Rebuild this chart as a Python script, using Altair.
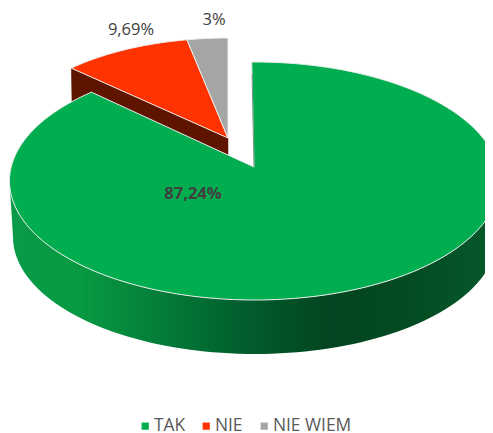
import math
import altair as alt

categories = ["TAK", "NIE", "NIE WIEM"]
shares = [87.24, 9.69, 3.0]
labels = ["87,24%", "9,69%", "3%"]
colors = ["#00AE50", "#FF3300", "#A5A5A5"]

# page offset of the plot area
OX, OY = 8, 8
# main disc: ellipse + the apex, which perspective moves off the ellipse centre
GC = (254.5, 181.0, 245.0, 119.0)
GA = (254.0, 167.0)
GB = (255.0, 237.0, 242.0, 117.0)  # lower rim
# pulled-out disc of the small slices
SC = (228.0, 138.0, 219.0, 100.0)
START = -0.6


def P(x, y):
    return [x - OX, y - OY]


def ray_point(c, a, deg):
    """Point where a ray from apex a at clock angle deg meets ellipse c."""
    cx, cy, rx, ry = c
    px, py = (a[0] - cx) / rx, -(a[1] - cy) / ry
    dx, dy = math.sin(math.radians(deg)), math.cos(math.radians(deg))
    b = px * dx + py * dy
    s = -b + math.sqrt(b * b - (px * px + py * py - 1))
    return (cx + rx * (px + s * dx), cy - ry * (py + s * dy))


def sector(c, a, d0, d1):
    n = max(4, int(abs(d1 - d0)))
    pts = [ray_point(c, a, d0 + (d1 - d0) * i / n) for i in range(n + 1)]
    ring = [P(*a)] + [P(*p) for p in pts] + [P(*a)]
    return ring


def feature(name, ring):
    return {"type": "Feature", "properties": {"name": name},
            "geometry": {"type": "Polygon", "coordinates": [ring]}}


green_end = START + shares[0] * 3.6
gray_deg = shares[2] * 3.6
red_deg = shares[1] * 3.6

tops = [
    feature(categories[0], sector(GC[:4], GA, START, green_end)),
    feature(categories[1], sector(SC, SC[:2], -gray_deg - red_deg, -gray_deg)),
    feature(categories[2], sector(SC, SC[:2], -gray_deg, 0)),
]

# green rim: lower half of the upper ellipse and of the lower ellipse
upper = [(GC[0] + GC[2] * math.cos(math.radians(t)), GC[1] + GC[3] * math.sin(math.radians(t)))
         for t in range(0, 181, 2)]
lower = [(GB[0] + GB[2] * math.cos(math.radians(t)), GB[1] + GB[3] * math.sin(math.radians(t)))
         for t in range(180, -1, -2)]
rim_ring = [P(*p) for p in upper + lower] + [P(*upper[0])]

# dark side of the red slice (its lower part runs behind the green slice)
rp = ray_point(SC, SC[:2], -gray_deg - red_deg)
DEPTH = 50
red_wall = [P(*rp), P(*SC[:2]), P(SC[0], SC[1] + DEPTH), P(rp[0] + 1, rp[1] + DEPTH), P(*rp)]

# thin inner side seen in the slit
sp = ray_point(GC[:4], GA, START)
slit = {"type": "Feature", "properties": {"name": "slit"},
        "geometry": {"type": "LineString", "coordinates": [P(sp[0] + 0.4, sp[1] + 12), P(GA[0], GA[1])]}}

proj = dict(type="identity", scale=1, translate=[0, 0])

rim_fill = alt.LinearGradient(
    gradient="linear", x1=0, x2=1, y1=0, y2=0,
    stops=[
        alt.GradientStop(offset=0.0, color="#0A9A48"),
        alt.GradientStop(offset=0.14, color="#089A42"),
        alt.GradientStop(offset=0.29, color="#04803A"),
        alt.GradientStop(offset=0.47, color="#015F2D"),
        alt.GradientStop(offset=0.65, color="#034520"),
        alt.GradientStop(offset=0.80, color="#044A22"),
        alt.GradientStop(offset=1.0, color="#055A2A"),
    ],
)

wall_red = alt.Chart(alt.Data(values=[feature("w", red_wall)])).mark_geoshape(
    fill="#5F1400", stroke="#5F1400", strokeWidth=0.5).project(**proj)
rim = alt.Chart(alt.Data(values=[feature("r", rim_ring)])).mark_geoshape(
    fill=rim_fill, strokeWidth=0, clip=True).project(**proj)
top = alt.Chart(alt.Data(values=tops)).mark_geoshape(
    stroke="#EDEDED", strokeWidth=1, clip=True
).encode(
    color=alt.Color(
        "properties.name:N",
        sort=categories,
        scale=alt.Scale(domain=categories, range=colors),
        legend=alt.Legend(
            title=None, orient="none", legendX=128.5, legendY=409,
            direction="horizontal", columns=3, symbolType="square",
            symbolSize=52, symbolStrokeWidth=0, labelFontSize=17.4,
            labelColor="#595959", labelFont="Open Sans", columnPadding=12,
            labelOffset=0,
        ),
    )
).project(**proj)
slit_line = alt.Chart(alt.Data(values=[slit])).mark_geoshape(
    filled=False, stroke="#6E8C7C", strokeWidth=0.9).project(**proj)

text_layers = []
for txt, px, py, bold in zip(labels, [193, 131, 214], [194, 30, 20], [True, False, False]):
    text_layers.append(
        alt.Chart(alt.Data(values=[{"t": txt}])).mark_text(
            font="Open Sans", fontSize=16.5, fontWeight="bold" if bold else "normal",
            color="#404040", align="center", baseline="middle",
        ).encode(text="t:N", x=alt.value(px - OX), y=alt.value(py - OY))
    )

chart = alt.layer(wall_red, rim, top, slit_line, *text_layers).properties(
    width=477, height=417, padding=0, background="white",
).configure_view(strokeWidth=0)

chart.save("out.html", embed_options={"renderer": "svg", "actions": False})
